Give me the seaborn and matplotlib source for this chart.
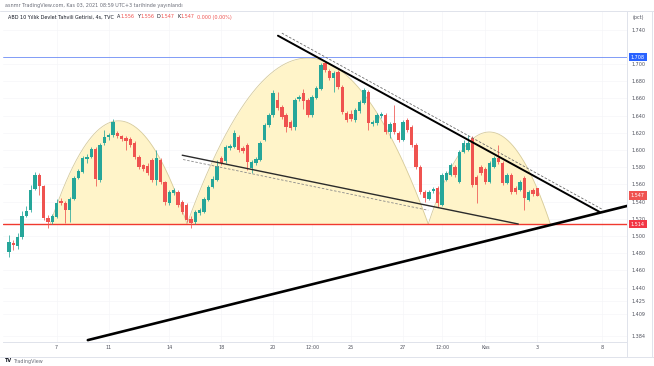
import matplotlib
matplotlib.use("Agg")
import matplotlib.pyplot as plt
import matplotlib.transforms as mtransforms
from matplotlib.lines import Line2D
import seaborn as sns
import numpy as np
import pandas as pd

# US 10Y yield (TVC), 4h bars
opens = [1.481, 1.492, 1.488, 1.499, 1.523, 1.530, 1.555, 1.571, 1.558, 1.521,
         1.516, 1.522, 1.541, 1.538, 1.530, 1.543, 1.567, 1.575, 1.590, 1.592,
         1.601, 1.565, 1.608, 1.615, 1.617, 1.620, 1.616, 1.614, 1.613, 1.608,
         1.592, 1.583, 1.581, 1.589, 1.565, 1.589, 1.563, 1.538, 1.550, 1.551,
         1.540, 1.536, 1.520, 1.516, 1.527, 1.528, 1.542, 1.557, 1.565, 1.591,
         1.587, 1.602, 1.604, 1.615, 1.602, 1.606, 1.579, 1.585, 1.589, 1.612,
         1.629, 1.641, 1.658, 1.650, 1.641, 1.633, 1.627, 1.659, 1.666, 1.658,
         1.641, 1.661, 1.671, 1.701, 1.692, 1.684, 1.691, 1.673, 1.643, 1.642,
         1.635, 1.645, 1.655, 1.668, 1.630, 1.631, 1.640, 1.641, 1.621, 1.631,
         1.620, 1.612, 1.635, 1.627, 1.606, 1.580, 1.551, 1.543, 1.552, 1.556,
         1.536, 1.565, 1.571, 1.580, 1.563, 1.598, 1.600, 1.614, 1.569, 1.580,
         1.578, 1.563, 1.580, 1.591, 1.585, 1.562, 1.571, 1.556, 1.554, 1.567,
         1.542, 1.554, 1.556]
closes = [1.493, 1.490, 1.499, 1.523, 1.529, 1.554, 1.571, 1.558, 1.521, 1.516,
          1.523, 1.538, 1.538, 1.530, 1.543, 1.567, 1.576, 1.591, 1.592, 1.601,
          1.566, 1.606, 1.615, 1.617, 1.633, 1.616, 1.613, 1.611, 1.606, 1.592,
          1.580, 1.578, 1.573, 1.565, 1.591, 1.563, 1.540, 1.551, 1.554, 1.536,
          1.528, 1.519, 1.515, 1.528, 1.530, 1.543, 1.557, 1.566, 1.581, 1.585,
          1.604, 1.605, 1.620, 1.600, 1.599, 1.586, 1.586, 1.590, 1.608, 1.629,
          1.641, 1.666, 1.649, 1.639, 1.627, 1.626, 1.658, 1.662, 1.657, 1.641,
          1.662, 1.672, 1.699, 1.693, 1.684, 1.690, 1.673, 1.644, 1.635, 1.636,
          1.647, 1.656, 1.670, 1.631, 1.633, 1.641, 1.642, 1.621, 1.630, 1.621,
          1.612, 1.633, 1.623, 1.606, 1.580, 1.551, 1.544, 1.551, 1.555, 1.538,
          1.571, 1.573, 1.583, 1.571, 1.598, 1.608, 1.608, 1.559, 1.559, 1.573,
          1.563, 1.585, 1.591, 1.586, 1.562, 1.571, 1.551, 1.551, 1.563, 1.544,
          1.551, 1.549, 1.547]
highs = [1.501, 1.495, 1.504, 1.529, 1.535, 1.559, 1.575, 1.573, 1.559, 1.525,
         1.526, 1.543, 1.544, 1.541, 1.545, 1.570, 1.578, 1.593, 1.595, 1.604,
         1.604, 1.608, 1.623, 1.620, 1.636, 1.622, 1.617, 1.616, 1.615, 1.611,
         1.594, 1.584, 1.585, 1.591, 1.600, 1.591, 1.564, 1.554, 1.556, 1.554,
         1.542, 1.538, 1.523, 1.530, 1.533, 1.545, 1.559, 1.570, 1.589, 1.593,
         1.606, 1.607, 1.623, 1.617, 1.605, 1.608, 1.589, 1.592, 1.611, 1.631,
         1.643, 1.670, 1.667, 1.652, 1.643, 1.635, 1.661, 1.664, 1.671, 1.661,
         1.664, 1.674, 1.701, 1.702, 1.694, 1.692, 1.693, 1.676, 1.645, 1.647,
         1.649, 1.658, 1.672, 1.670, 1.635, 1.643, 1.644, 1.643, 1.633, 1.652,
         1.622, 1.635, 1.637, 1.629, 1.608, 1.583, 1.554, 1.554, 1.557, 1.558,
         1.573, 1.576, 1.585, 1.583, 1.600, 1.612, 1.617, 1.616, 1.571, 1.583,
         1.580, 1.587, 1.593, 1.606, 1.587, 1.573, 1.573, 1.558, 1.565, 1.570,
         1.554, 1.556, 1.556]
lows = [1.476, 1.484, 1.485, 1.497, 1.522, 1.528, 1.554, 1.548, 1.519, 1.509,
        1.514, 1.521, 1.536, 1.515, 1.516, 1.542, 1.566, 1.573, 1.585, 1.591,
        1.558, 1.563, 1.606, 1.612, 1.615, 1.614, 1.611, 1.600, 1.604, 1.590,
        1.578, 1.576, 1.571, 1.563, 1.559, 1.561, 1.536, 1.536, 1.548, 1.534,
        1.526, 1.516, 1.509, 1.514, 1.525, 1.527, 1.541, 1.556, 1.564, 1.583,
        1.585, 1.600, 1.602, 1.598, 1.597, 1.577, 1.573, 1.583, 1.587, 1.611,
        1.627, 1.639, 1.647, 1.636, 1.621, 1.623, 1.623, 1.657, 1.648, 1.639,
        1.639, 1.659, 1.670, 1.691, 1.682, 1.668, 1.671, 1.642, 1.633, 1.634,
        1.633, 1.643, 1.654, 1.623, 1.628, 1.629, 1.637, 1.619, 1.614, 1.619,
        1.609, 1.611, 1.621, 1.604, 1.578, 1.549, 1.540, 1.542, 1.550, 1.534,
        1.535, 1.564, 1.570, 1.569, 1.562, 1.597, 1.599, 1.557, 1.538, 1.571,
        1.561, 1.562, 1.579, 1.584, 1.559, 1.561, 1.549, 1.549, 1.552, 1.530,
        1.541, 1.546, 1.547]

time_labels = ["7", "11", "14", "18", "20", "12:00", "25", "27", "12:00", "Kas", "3", "8"]
time_label_bars = [11, 23, 37, 49, 61, 70, 79, 91, 100, 110, 122, 137]

price_ticks = [1.740, 1.700, 1.680, 1.660, 1.640, 1.620, 1.600, 1.580, 1.560,
               1.540, 1.520, 1.500, 1.480, 1.460, 1.440, 1.425, 1.409, 1.384]

support_level = 1.514
resistance_level = 1.708
last_price = 1.547

# drawings: (bar index, price)
arc_bases = [(9.5, 41.1), (41.1, 96.8), (96.8, 125.0)]
arc_tops = [1.634, 1.707, 1.621]
upper_trend = ([62.1, 136.4], [1.733, 1.528])
upper_trend_dash = ([63.0, 137.0], [1.736, 1.531])
mid_trend = ([40.0, 117.6], [1.594, 1.514])
mid_trend_dash = ([40.2, 96.8], [1.589, 1.530])
rising_trend = ([18.2, 142.7], [1.379, 1.535])

df = pd.DataFrame({"open": opens, "high": highs, "low": lows, "close": closes})
df["bar"] = np.arange(len(df))
df["up"] = df["close"] >= df["open"]

sns.set_style("white")
plt.rcParams["font.family"] = ["DejaVu Sans"]

W, H = 654, 366
fig = plt.figure(figsize=(W / 100, H / 100), dpi=100)
ax = fig.add_axes([3 / W, 24 / H, 624 / W, 331 / H])
ax.set_xlim(-1.386, 142.7)
ax.set_ylim(1.3768, 1.7617)

UP, DOWN = "#26a69a", "#ef5350"
TXT = "#50535e"
FS = 3.5

# faint grid
for p in price_ticks:
    ax.axhline(p, color="#f5f6f8", lw=0.5, zorder=0)
for b in time_label_bars:
    ax.axvline(b, color="#f5f6f8", lw=0.5, zorder=0)

# arcs (quadratic shape like the TradingView arc tool)
for (b0, b1), top in zip(arc_bases, arc_tops):
    xs = np.linspace(b0, b1, 200)
    u = (xs - (b0 + b1) / 2) / ((b1 - b0) / 2)
    ys = support_level + (top - support_level) * (1 - u ** 2)
    ax.fill_between(xs, support_level, ys, color="#fff4c9", lw=0, zorder=1)
    ax.plot(xs, ys, color="#d6cb9c", lw=0.6, zorder=1.1)

# horizontal levels
ax.axhline(resistance_level, color="#6d8cf5", lw=0.6, zorder=2)
ax.axhline(support_level, color="#f0392f", lw=1.0, zorder=2)

# candles
for up, col in [(True, UP), (False, DOWN)]:
    d = df[df["up"] == up]
    ax.vlines(d["bar"], d["low"], d["high"], color=col, lw=0.55, zorder=3)
    body = (d["close"] - d["open"]).abs().clip(lower=0.0012)
    ax.bar(d["bar"], body, bottom=d[["open", "close"]].min(axis=1),
           width=0.78, color=col, lw=0, zorder=3.1)

# trend lines
for (xs, ys), kw in [
    (upper_trend_dash, dict(color="#6b6b6b", lw=0.6, dashes=(3, 2))),
    (mid_trend_dash, dict(color="#8a8a8a", lw=0.6, dashes=(3, 2))),
    (upper_trend, dict(color="black", lw=1.4)),
    (mid_trend, dict(color="#2b2b2b", lw=1.0)),
    (rising_trend, dict(color="black", lw=1.9)),
]:
    ln = sns.lineplot(x=xs, y=ys, ax=ax, sort=False, legend=False, zorder=4,
                      **{k: v for k, v in kw.items() if k != "dashes"})
    if "dashes" in kw:
        ln.lines[-1].set_dashes(kw["dashes"])

# axes styling
for s in ["top", "left"]:
    ax.spines[s].set_visible(False)
ax.spines["right"].set_color("#e0e3eb")
ax.spines["bottom"].set_color("#e0e3eb")
ax.spines["right"].set_linewidth(0.7)
ax.spines["bottom"].set_linewidth(0.7)
ax.yaxis.tick_right()
ax.set_yticks(price_ticks, [f"{p:.3f}" for p in price_ticks])
ax.set_xticks(time_label_bars, time_labels)
ax.tick_params(axis="y", length=0, pad=3.0, labelsize=FS, labelcolor=TXT)
ax.tick_params(axis="x", length=0, pad=2.2, labelsize=FS, labelcolor=TXT)
ax.set_xlabel("")
ax.set_ylabel("")

# price boxes on the scale
trans = mtransforms.blended_transform_factory(ax.transAxes, ax.transData)
for val, bg in [(resistance_level, "#2962ff"), (last_price, "#ef5350"),
                (support_level, "#f23645")]:
    ax.annotate(f"{val:.3f}", xy=(1.0, val), xycoords=trans, xytext=(2.8, 0),
                textcoords="offset points", ha="left", va="center",
                fontsize=FS, color="white", zorder=6, annotation_clip=False,
                bbox=dict(boxstyle="square,pad=0.35", fc=bg, ec="none"))

# frame lines around panes
fig.add_artist(Line2D([0, 1], [1 - 11 / H, 1 - 11 / H], color="#e0e3eb", lw=0.7))
fig.add_artist(Line2D([0, 1], [1 - 357 / H, 1 - 357 / H], color="#e0e3eb", lw=0.7))
fig.add_artist(Line2D([627 / W, 627 / W], [1 - 357 / H, 1 - 342 / H], color="#e0e3eb", lw=0.7))
fig.add_artist(Line2D([652 / W, 652 / W], [1 - 357 / H, 1 - 11 / H], color="#e0e3eb", lw=0.7))

# header texts
fig.text(5 / W, 1 - 5 / H, "asnmr TradingView.com, Kas 03, 2021 08:59 UTC+3 tarihinde yayınlandı",
         fontsize=FS, color="#6a6d78", va="center", ha="left")
t = fig.text(8 / W, 1 - 17 / H, "ABD 10 Yıllık Devlet Tahvili Getirisi, 4s, TVC",
             fontsize=FS, color="#131722", va="center", ha="left")
pieces = [("A", "#131722", 2.2), ("1.556", DOWN, 0.2), ("Y", "#131722", 1.8),
          ("1.556", DOWN, 0.2), ("D", "#131722", 1.8), ("1.547", DOWN, 0.2),
          ("K", "#131722", 1.8), ("1.547", DOWN, 0.2), ("0.000 (0.00%)", DOWN, 1.8)]
for txt, col, gap in pieces:
    t = ax.annotate(txt, xy=(1, 0), xycoords=t, xytext=(gap, 0),
                    textcoords="offset points", va="bottom", ha="left",
                    fontsize=FS, color=col, annotation_clip=False)
fig.text(638 / W, 1 - 17 / H, "(pct)", fontsize=FS, color=TXT, va="center", ha="center")
fig.text(5 / W, 1 - 361 / H, "TV", fontsize=FS, color="#131722", weight="bold", va="center")
fig.text(13 / W, 1 - 361 / H, "TradingView", fontsize=FS, color="#6a6d78", va="center")

fig.savefig("out.png", dpi=100, facecolor="white")
